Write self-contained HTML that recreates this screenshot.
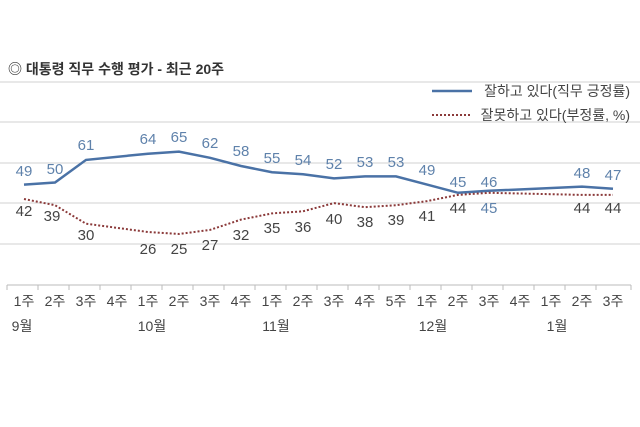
<!DOCTYPE html>
<html><head><meta charset="utf-8"><style>
body{margin:0;background:#fff;}
svg{display:block;font-family:"Liberation Sans","Noto Sans CJK KR",sans-serif;}
</style></head><body>
<svg width="640" height="427" viewBox="0 0 640 427">
<text x="8" y="74" font-size="14" font-weight="bold" fill="#333">◎  대통령 직무 수행 평가 - 최근 20주</text>
<g stroke="#d0d0d0" stroke-width="1">
<line x1="0" y1="82" x2="640" y2="82"/>
<line x1="0" y1="122" x2="640" y2="122"/>
<line x1="0" y1="163" x2="640" y2="163"/>
<line x1="0" y1="203" x2="640" y2="203"/>
<line x1="0" y1="244" x2="640" y2="244"/>
</g>
<line x1="432" y1="91" x2="472" y2="91" stroke="#4a72a6" stroke-width="2.5"/>
<text x="630" y="96" font-size="14" fill="#444" text-anchor="end">잘하고 있다(직무 긍정률)</text>
<line x1="432" y1="115" x2="472" y2="115" stroke="#8b3a3a" stroke-width="2" stroke-dasharray="2,2"/>
<text x="630" y="120" font-size="14" fill="#444" text-anchor="end">잘못하고 있다(부정률, %)</text>
<g stroke="#bbb"><line x1="7" y1="285" x2="631" y2="285"/>
<path d="M7 285v5M38 285v5M69 285v5M100 285v5M131 285v5M162 285v5M193 285v5M224 285v5M255 285v5M286 285v5M317 285v5M348 285v5M379 285v5M410 285v5M441 285v5M472 285v5M503 285v5M534 285v5M565 285v5M596 285v5M631 285v5"/></g>
<polyline fill="none" stroke="#4a72a6" stroke-width="2.5" points="24,184.6 55,182.5 86,159.9 148,153.7 179,151.6 210,157.8 241,166 272,172.2 303,174.3 334,178.4 365,176.4 396,176.4 427,184.6 458,192.8 489,190.8 582,186.6 613,188.7"/>
<polyline fill="none" stroke="#8b3a3a" stroke-width="2" stroke-dasharray="2,2" points="24,199 55,205.2 86,223.7 148,232 179,234 210,229.9 241,219.6 272,213.4 303,211.3 334,203.1 365,207.2 396,205.2 427,201.1 458,194.9 489,192.8 582,194.9 613,194.9"/>
<g font-size="15" fill="#5f82ab" text-anchor="middle">
<text x="24" y="176">49</text><text x="55" y="174">50</text><text x="86" y="150">61</text><text x="148" y="144">64</text><text x="179" y="142">65</text><text x="210" y="148">62</text><text x="241" y="156">58</text><text x="272" y="163">55</text><text x="303" y="165">54</text><text x="334" y="169">52</text><text x="365" y="167">53</text><text x="396" y="167">53</text><text x="427" y="175">49</text><text x="458" y="187">45</text><text x="489" y="187">46</text><text x="582" y="178">48</text><text x="613" y="180">47</text>
<text x="489" y="213">45</text>
</g>
<g font-size="15" fill="#444" text-anchor="middle">
<text x="24" y="216">42</text><text x="52" y="221">39</text><text x="86" y="240">30</text><text x="148" y="254">26</text><text x="179" y="254">25</text><text x="210" y="250">27</text><text x="241" y="240">32</text><text x="272" y="233">35</text><text x="303" y="232">36</text><text x="334" y="224">40</text><text x="365" y="227">38</text><text x="396" y="225">39</text><text x="427" y="221">41</text><text x="458" y="213">44</text><text x="582" y="213">44</text><text x="613" y="213">44</text>
</g>
<g font-size="14" fill="#444" text-anchor="middle">
<text x="24" y="306">1주</text><text x="55" y="306">2주</text><text x="86" y="306">3주</text><text x="117" y="306">4주</text><text x="148" y="306">1주</text><text x="179" y="306">2주</text><text x="210" y="306">3주</text><text x="241" y="306">4주</text><text x="272" y="306">1주</text><text x="303" y="306">2주</text><text x="334" y="306">3주</text><text x="365" y="306">4주</text><text x="396" y="306">5주</text><text x="427" y="306">1주</text><text x="458" y="306">2주</text><text x="489" y="306">3주</text><text x="520" y="306">4주</text><text x="551" y="306">1주</text><text x="582" y="306">2주</text><text x="613" y="306">3주</text>
<text x="22" y="331">9월</text><text x="152" y="331">10월</text><text x="276" y="331">11월</text><text x="433" y="331">12월</text><text x="557" y="331">1월</text>
</g>
</svg>
</body></html>
